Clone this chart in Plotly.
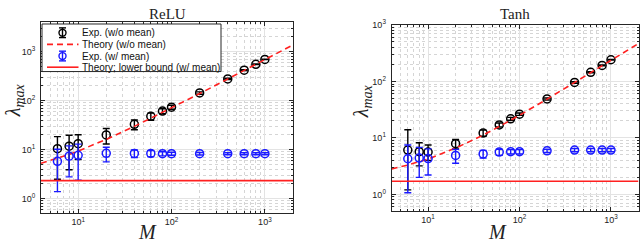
import math
import plotly.graph_objects as go

M = [6, 8, 10, 20, 40, 60, 80, 100, 200, 400, 600, 800, 1000]

relu_wo = [10.5, 11.8, 13.3, 20.1, 33, 48, 61.5, 74, 144, 279, 421, 554, 697]
relu_wo_err = [8, 7.9, 7, 7, 7.5, 8, 7, 7, 8, 8, 8, 8, 8]
relu_w = [5.8, 7.4, 7.7, 8.45, 8.4, 8.4, 8.3, 8.3, 8.3, 8.3, 8.3, 8.3, 8.3]
relu_w_err = [4.4, 4.6, 5.3, 2.8, 1.5, 1.2, 0.8, 0.6, 0.5, 0.4, 0.4, 0.4, 0.4]

tanh_wo = [6.1, 5.7, 5.6, 7.9, 12.2, 17, 21.8, 26.3, 49, 96, 145, 192, 242]
tanh_wo_err_plus = [7.8, 2.5, 1.9, 1.5, 1.5, 1.4, 1.3, 1.3, 2, 3, 3, 3, 3]
tanh_wo_err_minus = [4.9, 2.5, 1.6, 1.5, 1.5, 1.4, 1.3, 1.3, 2, 3, 3, 3, 3]
tanh_w = [4.27, 4.4, 4.3, 4.9, 5.2, 5.6, 5.7, 5.7, 5.9, 6.1, 6.1, 6.1, 6.1]
tanh_w_err = [3.2, 2.4, 2.1, 1.35, 0.8, 0.7, 0.5, 0.5, 0.4, 0.4, 0.4, 0.4, 0.4]

M_theory = [4, 6, 8, 10, 20, 40, 60, 80, 100, 200, 400, 600, 800, 1000, 2000]
relu_theory = [5.3, 6.7, 8.0, 9.4, 16.3, 30, 44, 58, 71, 140, 278, 416, 554, 692, 1380]
tanh_theory = [2.83, 3.3, 3.8, 4.2, 6.6, 11.2, 15.9, 20.5, 25.2, 48.5, 95, 142, 188, 235, 468]

M_bound = [4, 2000]
relu_bound = [2.34, 2.34]
tanh_bound = [1.71, 1.71]

legend_labels = ["Exp. (w/o mean)", "Theory (w/o mean)", "Exp. (w/ mean)",
                 "Theory; lower bound (w/ mean)"]
panel_titles = ["ReLU", "Tanh"]

xticks = [10, 100, 1000]
xtext = ["10<sup>1</sup>", "10<sup>2</sup>", "10<sup>3</sup>"]
yticks = [1, 10, 100, 1000]
ytext = ["10<sup>0</sup>", "10<sup>1</sup>", "10<sup>2</sup>", "10<sup>3</sup>"]

BLACK = "#000000"
BLUE = "#1a1aff"
RED = "#ff2020"
DASH = "6px,4px"

W, H = 640, 240


def px(x):
    return x / W


def py(y):
    return 1 - y / H


fig = go.Figure()


def add_panel(xa, ya, wo, wo_plus, wo_minus, w, w_err, theory, bound):
    fig.add_trace(go.Scatter(
        x=M, y=wo, mode="markers", showlegend=False,
        marker=dict(symbol="circle-open", size=8, color=BLACK, line=dict(width=1.5, color=BLACK)),
        error_y=dict(type="data", array=wo_plus, arrayminus=wo_minus, symmetric=False,
                     color=BLACK, thickness=1.4, width=3.5),
        xaxis=xa, yaxis=ya))
    fig.add_trace(go.Scatter(
        x=M_theory, y=theory, mode="lines", showlegend=False,
        line=dict(color=RED, width=1.6, dash=DASH),
        xaxis=xa, yaxis=ya))
    fig.add_trace(go.Scatter(
        x=M, y=w, mode="markers", showlegend=False,
        marker=dict(symbol="circle-open", size=8, color=BLUE, line=dict(width=1.5, color=BLUE)),
        error_y=dict(type="data", array=w_err, color=BLUE, thickness=1.4, width=3.5),
        xaxis=xa, yaxis=ya))
    fig.add_trace(go.Scatter(
        x=M_bound, y=bound, mode="lines", showlegend=False,
        line=dict(color=RED, width=1.6),
        xaxis=xa, yaxis=ya))


add_panel("x", "y", relu_wo, relu_wo_err, relu_wo_err, relu_w, relu_w_err, relu_theory, relu_bound)
add_panel("x2", "y2", tanh_wo, tanh_wo_err_plus, tanh_wo_err_minus, tanh_w, tanh_w_err, tanh_theory, tanh_bound)

tickfont = dict(family="Liberation Sans", size=9, color="#222")
labfont = dict(family="Liberation Serif", size=20, color="#222")

common_axis = dict(
    type="log", showline=True, linecolor="#262626", linewidth=1, mirror="ticks",
    ticks="inside", ticklen=4, tickcolor="#262626",
    showgrid=True, gridcolor="#e3e3e3", gridwidth=1, zeroline=False,
    tickfont=tickfont,
    minor=dict(ticks="inside", ticklen=2, tickcolor="#262626", dtick="D1",
               showgrid=True, gridcolor="#d5d5d5", griddash="dot", gridwidth=1),
)

L1, R1, T1, B1 = 41, 293, 15.7, 212.7
L2, R2, T2, B2 = 391.7, 638.5, 18.5, 210.5

shapes = []
annotations = []

# custom legend (box, samples, labels)
LX0, LX1, LY0, LY1 = 42, 221, 17.5, 66.5
shapes.append(dict(type="rect", xref="paper", yref="paper",
                   x0=px(LX0), x1=px(LX1), y0=py(LY1), y1=py(LY0),
                   line=dict(color="#262626", width=1), fillcolor="white", layer="above"))
rows = [26.5, 38.5, 50.5, 62.0]
sym_x = 62.5
line_x0, line_x1 = 47, 78.5
text_x = 79.5
for i, (lab, ry) in enumerate(zip(legend_labels, rows)):
    if i in (0, 2):
        c = BLACK if i == 0 else BLUE
        shapes.append(dict(type="line", xref="paper", yref="paper",
                           x0=px(sym_x), x1=px(sym_x), y0=py(ry - 5), y1=py(ry + 5),
                           line=dict(color=c, width=1.4), layer="above"))
        for cy in (ry - 5, ry + 5):
            shapes.append(dict(type="line", xref="paper", yref="paper",
                               x0=px(sym_x - 3.5), x1=px(sym_x + 3.5), y0=py(cy), y1=py(cy),
                               line=dict(color=c, width=1.4), layer="above"))
        shapes.append(dict(type="circle", xref="paper", yref="paper",
                           x0=px(sym_x - 3.5), x1=px(sym_x + 3.5), y0=py(ry + 3.5), y1=py(ry - 3.5),
                           line=dict(color=c, width=1.4), fillcolor="rgba(0,0,0,0)", layer="above"))
    else:
        shapes.append(dict(type="line", xref="paper", yref="paper",
                           x0=px(line_x0), x1=px(line_x1), y0=py(ry), y1=py(ry),
                           line=dict(color=RED, width=1.6, dash=DASH if i == 1 else "solid"),
                           layer="above"))
    annotations.append(dict(text=lab, x=px(text_x), y=py(ry), xref="paper", yref="paper",
                            xanchor="left", yanchor="middle", showarrow=False,
                            font=dict(family="Liberation Sans", size=10, color="#111")))

# titles
for t, (l, r) in zip(panel_titles, [(L1, R1), (L2, R2)]):
    annotations.append(dict(text=t, x=px((l + r) / 2), y=py(7.5), xref="paper", yref="paper",
                            xanchor="center", yanchor="middle", showarrow=False,
                            font=dict(family="Liberation Serif", size=15, color="#222")))

# axis labels
for xc in (147, 497):
    annotations.append(dict(text="<i>M</i>", x=px(xc), y=py(218), xref="paper", yref="paper",
                            xanchor="center", yanchor="top", showarrow=False, font=labfont))
for xc, yc in ((14, 96), (362, 97)):
    annotations.append(dict(text="<i>λ<sub>max</sub></i>", x=px(xc), y=py(yc),
                            xref="paper", yref="paper", textangle=-90,
                            xanchor="center", yanchor="middle", showarrow=False, font=labfont))

fig.update_layout(
    width=W, height=H,
    margin=dict(l=0, r=0, t=0, b=0),
    paper_bgcolor="white", plot_bgcolor="white",
    showlegend=False,
    xaxis=dict(common_axis, domain=[px(L1), px(R1)],
               range=[math.log10(4), math.log10(2000)],
               tickvals=xticks, ticktext=xtext, anchor="y"),
    yaxis=dict(common_axis, domain=[py(B1), py(T1)],
               range=[math.log10(0.5), math.log10(4000)],
               tickvals=yticks, ticktext=ytext, anchor="x", ticklabelstandoff=3),
    xaxis2=dict(common_axis, domain=[px(L2), px(R2)],
                range=[math.log10(4), math.log10(2000)],
                tickvals=xticks, ticktext=xtext, anchor="y2"),
    yaxis2=dict(common_axis, domain=[py(B2), py(T2)],
                range=[math.log10(0.5), math.log10(1000)],
                tickvals=yticks, ticktext=ytext, anchor="x2", ticklabelstandoff=3),
    shapes=shapes,
    annotations=annotations,
)

fig.write_html("out.html", config={"displayModeBar": False},
               post_script="document.body.style.margin='0';")
